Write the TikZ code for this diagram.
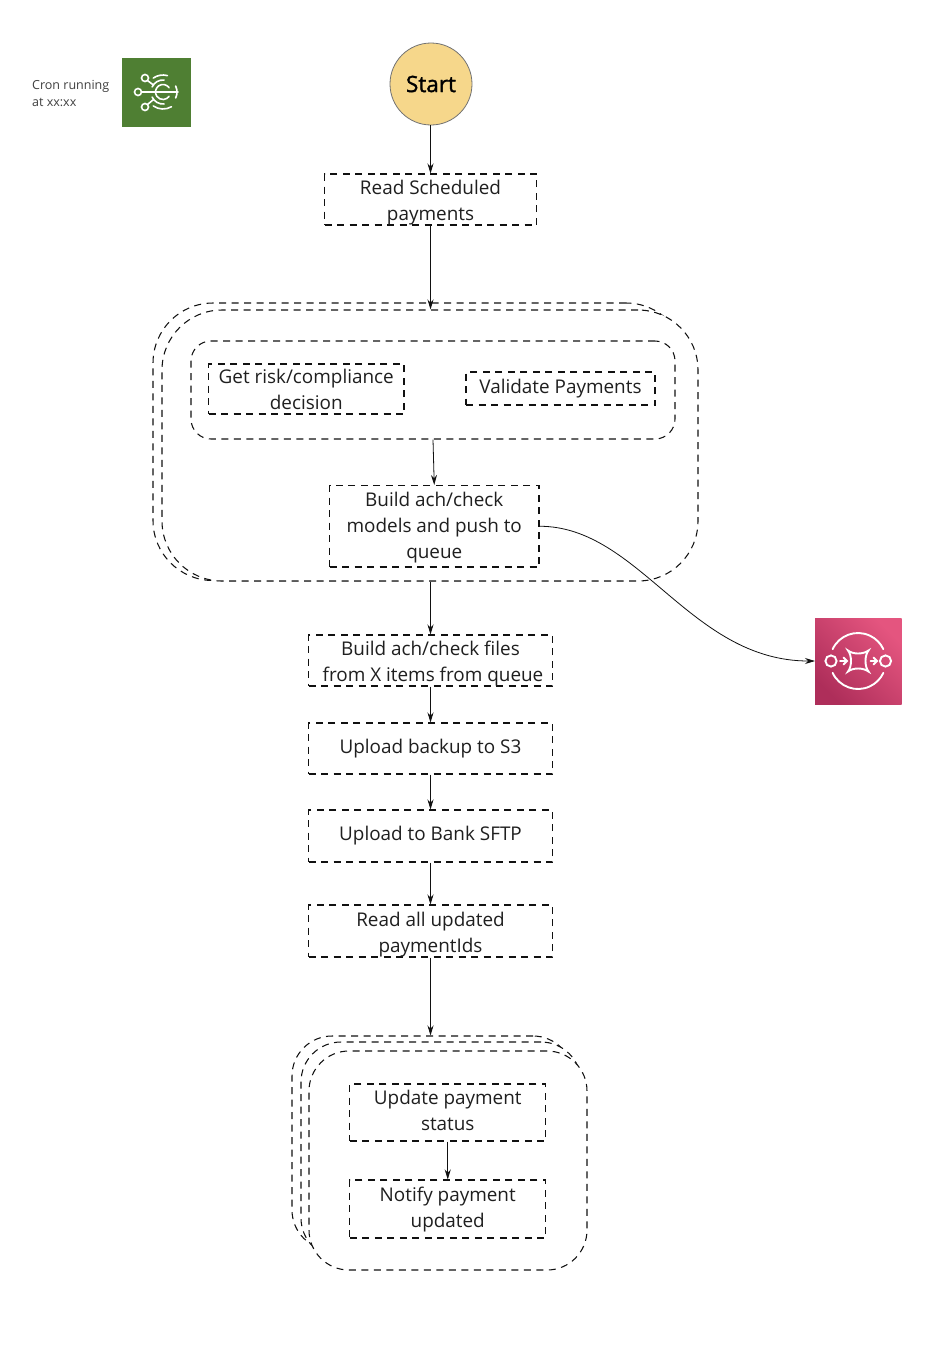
\documentclass[tikz,border=0pt]{standalone}
\usepackage{fontspec}
\setmainfont{Open Sans}
\usetikzlibrary{arrows.meta,shapes.geometric}
\definecolor{txt}{HTML}{1F1F1F}
\definecolor{ink}{HTML}{111111}
\definecolor{startfill}{HTML}{F6D78B}
\definecolor{cronA}{HTML}{4F7F33}
\definecolor{sqsA}{HTML}{AE2E5A}
\definecolor{sqsB}{HTML}{E4557F}
\tikzset{
  dashline/.style={draw=ink,line width=1.05pt,dash pattern=on 7pt off 5.5pt},
  stepbox/.style={dashline,inner sep=0pt,align=center,text=txt,font=\fontsize{18.9}{26}\selectfont},
  groupbox/.style={dashline,fill=white,inner sep=0pt,rounded corners=60pt},
  smallgroup/.style={dashline,fill=white,inner sep=0pt,rounded corners=40pt},
  conn/.style={draw=ink,line width=0.8pt,-{Stealth[length=10pt,width=6pt]}},
  iconline/.style={draw=white,line width=1.6pt,line cap=round},
  sized/.style 2 args={minimum width=#1pt,minimum height=#2pt},
}
% text lines moved down by #1 px inside a box of fixed size
\newcommand{\boxtext}[2]{\raisebox{\dimexpr-2.5pt-#1pt\relax}[0pt][0pt]{\begin{tabular}[c]{@{}c@{}}#2\end{tabular}}}
\begin{document}
\begin{tikzpicture}[x=1pt,y=-1pt]
\useasboundingbox[fill=white] (0,0) rectangle (942,1350);

% large group
\node[groupbox,sized={533}{277.5}] (gback) at (419.5,441.75) {};
\node[groupbox,sized={536}{271}] (gfront) at (430,445.5) {};
\node[dashline,inner sep=0pt,rounded corners=20pt,sized={484}{98}] (ginner) at (433,390) {};

% small group
\node[smallgroup,sized={281}{214}] (sback) at (432.5,1143) {};
\node[smallgroup,sized={280}{216}] (smid) at (441,1150) {};
\node[smallgroup,sized={278}{219}] (sfront) at (448,1160.5) {};

% start
\node[circle,draw=black!55,line width=0.8pt,fill=startfill,minimum size=82pt,inner sep=0pt,
  font=\fontsize{22.5}{26}\selectfont\addfontfeature{FakeBold=1.5},text=black] (start) at (431,84) {Start};

% steps
\node[stepbox,sized={212}{51}] (read) at (430.5,199.5) {\boxtext{4.5}{Read Scheduled\\payments}};
\node[stepbox,sized={195.5}{50}] (risk) at (306.25,389) {\boxtext{4}{Get risk/compliance\\decision}};
\node[stepbox,sized={189}{33}] (validate) at (560.5,388.5) {Validate Payments};
\node[stepbox,sized={209.5}{81.5}] (build) at (434.25,526.25) {\boxtext{3}{Build ach/check\\models and push to\\queue}};
\node[stepbox,sized={244}{51}] (files) at (430.5,660.5) {\boxtext{5}{Build ach/check files\\\hspace*{5pt}from X items from queue}};
\node[stepbox,sized={244}{51}] (s3) at (430.5,748.5) {Upload backup to S3};
\node[stepbox,sized={244}{52}] (sftp) at (430.5,836) {Upload to Bank SFTP};
\node[stepbox,sized={244}{52}] (updated) at (430.5,931) {\boxtext{5}{Read all updated\\paymentIds}};
\node[stepbox,sized={196}{57}] (status) at (447.75,1112.5) {\boxtext{2}{Update payment\\status}};
\node[stepbox,sized={196}{58}] (notify) at (447.75,1209) {\boxtext{2}{Notify payment\\updated}};

% cron label and icon
\node[anchor=north west,inner sep=0pt,align=left,text=black!75,font=\fontsize{12.5}{17}\selectfont] (cronlabel) at (32,80.5) {Cron running\\at xx:xx};
\fill[cronA] (122,58) rectangle (190.5,126.5);
\begin{scope}[iconline]
  \draw (145,78) circle (3.5);
  \draw (138,92) circle (3.5);
  \draw (145,107) circle (3.5);
  \draw (141.5,92) -- (178,92);
  \draw (147.5,80.5) -- (153.5,85);
  \draw (147.5,104.5) -- (153.5,99.5);
  \draw (163,92) ++(-35:7.5) arc[start angle=-35,end angle=-325,radius=7.5];
  \draw (163,92) ++(205:12) arc[start angle=205,end angle=275,radius=12];
  \draw (163,92) ++(155:12) arc[start angle=155,end angle=85,radius=12];
  \draw (163,92) ++(235:17) arc[start angle=235,end angle=285,radius=17];
  \draw (163,92) ++(-25:14) arc[start angle=-25,end angle=25,radius=14];
  \draw (163,92) ++(125:17) arc[start angle=125,end angle=60,radius=17];
\end{scope}

% SQS icon
\shade[bottom color=sqsA,top color=sqsB,shading angle=-45] (815,618) rectangle (901.5,704.5);
\coordinate (sqs) at (815,661);
\begin{scope}[iconline,line width=1.9pt]
  \draw (831,661) circle (5.6);
  \draw (885.5,661) circle (5.6);
  \draw (858,661) ++(205:28) arc[start angle=205,end angle=335,radius=28];
  \draw (858,661) ++(155:28) arc[start angle=155,end angle=25,radius=28];
  \draw (848,650.5) .. controls (853,654.5) and (863,654.5) .. (868.5,650.5)
        .. controls (864.5,655.5) and (864.5,666.5) .. (868.5,671.5)
        .. controls (863,667.5) and (853,667.5) .. (848,671.5)
        .. controls (852,666.5) and (852,655.5) .. (848,650.5) -- cycle;
  \draw (840,661) -- (846.5,661);
  \draw (843.5,657.5) -- (847,661) -- (843.5,664.5);
  \draw (870.5,661) -- (877,661);
  \draw (873.5,657.5) -- (877,661) -- (873.5,664.5);
\end{scope}

% connectors
\draw[conn] (read.north |- start.south) -- (read.north);
\draw[conn] (read.south) -- (read.south |- gfront.north);
\draw[conn] (ginner.south) -- (build.north);
\draw[conn] (files.north |- gfront.south) -- (files.north);
\draw[conn] (files.south) -- (s3.north);
\draw[conn] (s3.south) -- (sftp.north);
\draw[conn] (sftp.south) -- (updated.north);
\draw[conn] (updated.south) -- (updated.south |- sback.north);
\draw[conn] (status.south) -- (notify.north);
\draw[conn] (build.east) .. controls +(100,0) and +(-125,0) .. (sqs);
\end{tikzpicture}
\end{document}
